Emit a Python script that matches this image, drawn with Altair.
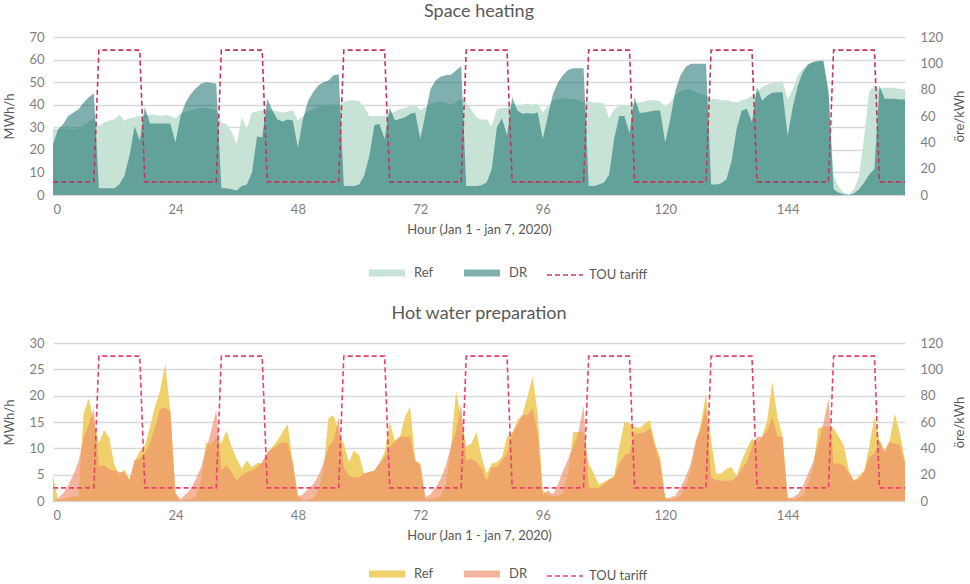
import altair as alt
import pandas as pd

hours = list(range(168))

# TOU tariff (öre/kWh)
tariff = [
    10, 10, 10, 10, 10, 10, 10, 10, 10, 110, 110, 110, 110, 110, 110, 110, 110, 110, 10, 10, 10, 10, 10, 10,
    10, 10, 10, 10, 10, 10, 10, 10, 10, 110, 110, 110, 110, 110, 110, 110, 110, 110, 10, 10, 10, 10, 10, 10,
    10, 10, 10, 10, 10, 10, 10, 10, 10, 110, 110, 110, 110, 110, 110, 110, 110, 110, 10, 10, 10, 10, 10, 10,
    10, 10, 10, 10, 10, 10, 10, 10, 10, 110, 110, 110, 110, 110, 110, 110, 110, 110, 10, 10, 10, 10, 10, 10,
    10, 10, 10, 10, 10, 10, 10, 10, 10, 110, 110, 110, 110, 110, 110, 110, 110, 110, 10, 10, 10, 10, 10, 10,
    10, 10, 10, 10, 10, 10, 10, 10, 10, 110, 110, 110, 110, 110, 110, 110, 110, 110, 10, 10, 10, 10, 10, 10,
    10, 10, 10, 10, 10, 10, 10, 10, 10, 110, 110, 110, 110, 110, 110, 110, 110, 110, 10, 10, 10, 10, 10, 10,
]

# Space heating (MWh/h)
sh_ref = [
    29, 29.5, 29.5, 29.5, 29, 29.5, 31, 32.5, 34, 30.5, 32, 33, 33.5, 35.5, 33, 34, 34.5, 35, 35.5, 35.5, 35.5, 35, 35.5, 35,
    34, 36, 37, 37.5, 38, 38.5, 38.5, 38, 37.5, 32, 31.5, 28, 22.5, 34.5, 29.5, 36.5, 37, 37.5, 37.5, 37.5, 37, 36.5, 37, 37.5,
    33, 35, 37, 38, 39, 39.5, 40, 40, 40, 41, 42, 42, 41.5, 39, 35, 35, 35, 35, 36, 37, 38, 38.5, 39.5, 40,
    37.5, 39, 40.5, 41, 41.5, 41, 40, 41, 42.5, 41, 38, 34.5, 33.5, 33.5, 30.5, 38, 38.5, 38.5, 40.5, 40, 40, 40.5, 40, 40.5,
    36.5, 39.5, 42, 42.5, 43, 42.5, 42.5, 42, 41, 41.5, 41, 41, 40.5, 34, 38, 39.5, 40, 39.5, 40.5, 41, 41.5, 42, 42, 41.5,
    39, 41, 44, 46, 47, 47, 45.5, 45, 44, 42.5, 42.5, 42, 42, 41.5, 41, 42, 42.5, 44, 45.5, 48, 49, 49.5, 50, 50.5,
    42.5, 47, 53, 56, 58, 59, 59.5, 59, 44, 8.5, 3.5, 1, 0.3, 2.5, 8.5, 26, 46, 48.5, 47, 47.5, 47.5, 47.5, 47, 47,
]
sh_dr = [
    22.5, 29, 31.5, 35, 36.5, 38, 41, 43.3, 45, 3, 3, 3, 3, 4.7, 8.5, 17.5, 30.5, 24, 39, 31.7, 31.7, 31.7, 31.7, 31.7,
    23.3, 35, 41, 44.8, 47.3, 49.3, 50, 49.7, 49.3, 3, 3, 2.5, 2, 4, 4.7, 10, 26, 25.5, 42.6, 37.4, 33.4, 32.6, 33.4, 33,
    21, 33.7, 41.8, 45.5, 48.5, 50, 50.7, 53, 53.5, 4, 4, 4, 4.7, 8.5, 17.4, 31, 31.5, 24.8, 38.9, 33, 33.7, 34.4, 35.9, 36.6,
    24.8, 35.9, 47, 50.7, 52.5, 53, 53.3, 55.2, 57.1, 4, 4, 4, 4.3, 5.5, 11.4, 30, 34, 26.3, 43.3, 37.4, 36, 36.3, 36, 36.6,
    24.8, 35, 44.8, 50, 53.3, 55.5, 56.2, 56.2, 56.2, 4, 4, 4.7, 5.5, 9, 25, 35, 35, 27.4, 43.3, 36.3, 36.6, 37, 37.4, 37.4,
    23.3, 33.7, 46.3, 53, 56.7, 58.2, 58.2, 58.2, 58.2, 4.7, 4.7, 5.2, 7, 15, 29.2, 37.4, 38.1, 32.2, 47.8, 41.8, 44, 45.3, 45.5, 45.5,
    26.3, 38.9, 48.5, 54.5, 57.7, 58.9, 59.3, 59.6, 46.3, 2.5, 1, 0.3, 0, 0.7, 2.5, 5.5, 9.2, 11.4, 48.5, 42.6, 42.6, 42.6, 42.3, 42.3,
]

# Hot water preparation (MWh/h)
hw_ref = [
    4.8, 0.2, 0.4, 0.7, 0.8, 1, 16.5, 19.5, 15, 11, 13.5, 12, 7, 5, 6, 4, 7.5, 9.5, 10.5, 14, 18, 21, 26, 17,
    1.3, 0, 0.3, 0.4, 1, 3.9, 11.2, 10.6, 12.2, 10.9, 13.4, 10.3, 8, 6.1, 7.7, 6.4, 7.2, 7.1, 9, 10.3, 11.5, 13.1, 14.6, 7.4,
    1.3, 0, 0.3, 0.5, 2, 5.8, 15.7, 16.3, 13, 10.9, 7.4, 9.6, 8.7, 5.2, 5.5, 5.8, 7.2, 9.3, 15, 11.5, 12.2, 16, 17.9, 7.7,
    7.1, 0.4, 0.3, 0.5, 1, 3.2, 10.3, 20.8, 15.7, 10.3, 10.9, 13.1, 8.3, 5.2, 7.1, 7.4, 8.3, 12.2, 12.8, 15.4, 16.3, 19.8, 23.6, 16.6,
    2, 1.3, 1, 1, 1.5, 5.8, 13.1, 13.1, 13.1, 7.1, 5.2, 3.2, 3.6, 4.2, 4.8, 10.3, 15, 14.7, 14.1, 13.8, 14.7, 15.4, 10.9, 8.3,
    0.7, 0.3, 0.5, 1, 2.9, 5.8, 10.9, 14.7, 20.4, 11.5, 5.2, 5.2, 6.1, 6.4, 4.8, 7.7, 9.9, 11.8, 10.9, 12.2, 15.4, 22.7, 16, 12.2,
    0.7, 0.3, 0.5, 1, 3.2, 6.4, 13.8, 14.1, 14.1, 13.8, 12.2, 10.6, 5.8, 3.9, 4.8, 5.8, 10.3, 16, 11.5, 9.6, 11.5, 16.6, 12.8, 7.7,
]
hw_dr = [
    0, 0.5, 1.5, 3, 5, 7.5, 12, 14.5, 17.5, 6.5, 6.8, 6, 5.8, 5.5, 5.5, 4, 7.8, 8, 9, 11, 14, 17.5, 17.7, 17,
    1.5, 0.4, 1.3, 2.3, 4.2, 6.4, 9.6, 13.4, 17.3, 5.8, 6.8, 5.5, 3.9, 4.8, 5.5, 5.8, 6.4, 7.4, 9.3, 9.9, 10.6, 11.2, 11, 7.1,
    0.7, 1.3, 2.3, 3.2, 4.8, 7.1, 10.3, 11.5, 16, 6.4, 4.8, 4.5, 4.5, 5.2, 5.5, 5.8, 7.1, 8.3, 10.3, 11.2, 12.2, 12.2, 12.2, 7.7,
    6.8, 0.7, 1.3, 2.6, 4.2, 6.8, 10.3, 13.4, 18.5, 7.7, 8, 7.4, 6.1, 3.9, 6.4, 6.4, 7.7, 9, 12.8, 14.4, 16.3, 16.3, 17.6, 12.8,
    1.3, 2, 1.3, 3.2, 5.8, 8, 10.3, 13.1, 18.2, 2.5, 2.5, 2.5, 3.2, 4, 4.5, 7.1, 8.7, 9, 12.8, 12.8, 13.1, 13.8, 10.3, 7.1,
    0.4, 0.7, 1, 2.6, 4.5, 7.1, 11.5, 13.8, 17.9, 4.5, 3.9, 3.9, 3.8, 3.9, 4.5, 6.1, 7.4, 10.3, 12.2, 12.2, 13.4, 16, 12.2, 12.2,
    0.5, 0.7, 1.3, 2.9, 5.2, 7.4, 10.9, 14.7, 19.5, 7.1, 7.1, 6.8, 5.2, 3.9, 4.2, 5.5, 8.3, 9, 11.5, 9.3, 11.2, 10.9, 10.6, 7.1,
]

series_names = ["Ref", "DR", "TOU tariff"]
x_ticks = [0, 24, 48, 72, 96, 120, 144]
right_ticks = [0, 20, 40, 60, 80, 100, 120]

FONT = "Lato"
W, H = 852, 158


def panel(title, ref, dr, ymax, ystep, ref_color, dr_color, dr_opacity,
          legend_colors, tou_color, legend_y, title_offset):
    df = pd.DataFrame({
        "hour": hours, "Ref": ref, "DR": dr, "tariff": tariff,
        "series": ["TOU tariff"] * len(hours),
    })
    base = alt.Chart(df)
    x = alt.X(
        "hour:Q",
        scale=alt.Scale(domain=[0, 167], nice=False, zero=False),
        axis=alt.Axis(values=x_ticks, title="Hour (Jan 1 - jan 7, 2020)",
                      grid=False, domain=False, ticks=False,
                      labelPadding=8, titlePadding=7),
    )
    yscale = alt.Scale(domain=[0, ymax], nice=False)
    left_axis = alt.Axis(values=list(range(0, ymax + 1, ystep)), title="MWh/h",
                         grid=True, gridColor="#d9d9d9", gridWidth=1.5,
                         domain=False, ticks=False, labelPadding=9,
                         titlePadding=12)
    area_ref = base.mark_area(color=ref_color, interpolate="linear").encode(
        x=x,
        y=alt.Y("Ref:Q", scale=yscale, axis=left_axis),
    )
    area_dr = base.mark_area(color=dr_color, opacity=dr_opacity,
                             interpolate="linear").encode(
        x=x,
        y=alt.Y("DR:Q", scale=yscale, axis=left_axis),
    )
    leg = alt.Legend(title=None, orient="none", legendX=312, legendY=legend_y,
                     direction="horizontal", symbolType="stroke",
                     symbolSize=1300, labelFont=FONT, labelFontSize=13,
                     labelColor="#595959", columnPadding=15, labelOffset=5)
    line = base.mark_line(interpolate="linear").encode(
        x=x,
        y=alt.Y("tariff:Q", scale=alt.Scale(domain=[0, 120], nice=False),
                axis=alt.Axis(orient="right", values=right_ticks, title="öre/kWh",
                              grid=False, domain=False, ticks=False,
                              labelPadding=15, titleAngle=270,
                              titleX=54, titleY=H / 2, titleAlign="center",
                              titleBaseline="middle")),
        color=alt.Color("series:N",
                        scale=alt.Scale(domain=series_names,
                                        range=legend_colors + [tou_color]),
                        legend=leg),
        strokeDash=alt.StrokeDash("series:N",
                                  scale=alt.Scale(domain=series_names,
                                                  range=[[1, 0], [1, 0], [5, 3]]),
                                  legend=leg),
        strokeWidth=alt.StrokeWidth("series:N",
                                    scale=alt.Scale(type="ordinal",
                                                    domain=series_names,
                                                    range=[7, 7, 1.6]),
                                    legend=leg),
    )
    return alt.layer(alt.layer(area_ref, area_dr), line).resolve_scale(
        y="independent"
    ).properties(
        width=W, height=H,
        title=alt.TitleParams(title, font=FONT, fontSize=18, fontWeight="normal",
                              color="#595959", anchor="middle",
                              offset=title_offset),
    )


top = panel("Space heating", sh_ref, sh_dr, 70, 10,
            "#c6e3d6", "#005f5f", 0.5, ["#c6e3d6", "#7fafaf"], "#c4375c", 214, 10)
bottom = panel("Hot water preparation", hw_ref, hw_dr, 30, 5,
               "#efd06a", "#ed926c", 0.68, ["#efd06a", "#f3b59b"], "#e8426b", 209, 14)

chart = alt.vconcat(top, bottom, spacing=18).resolve_scale(
    color="independent", strokeDash="independent", strokeWidth="independent"
).resolve_legend(
    color="independent", strokeDash="independent", strokeWidth="independent"
).properties(
    padding={"left": 3, "top": 3, "right": 3, "bottom": 0},
    background="white",
).configure_view(strokeWidth=0).configure_axis(
    labelFont=FONT, labelFontSize=13, labelColor="#7f7f7f",
    titleFont=FONT, titleFontSize=13, titleColor="#595959",
    titleFontWeight="normal",
)

chart.save("out.html", embed_options={"renderer": "svg", "actions": False})
